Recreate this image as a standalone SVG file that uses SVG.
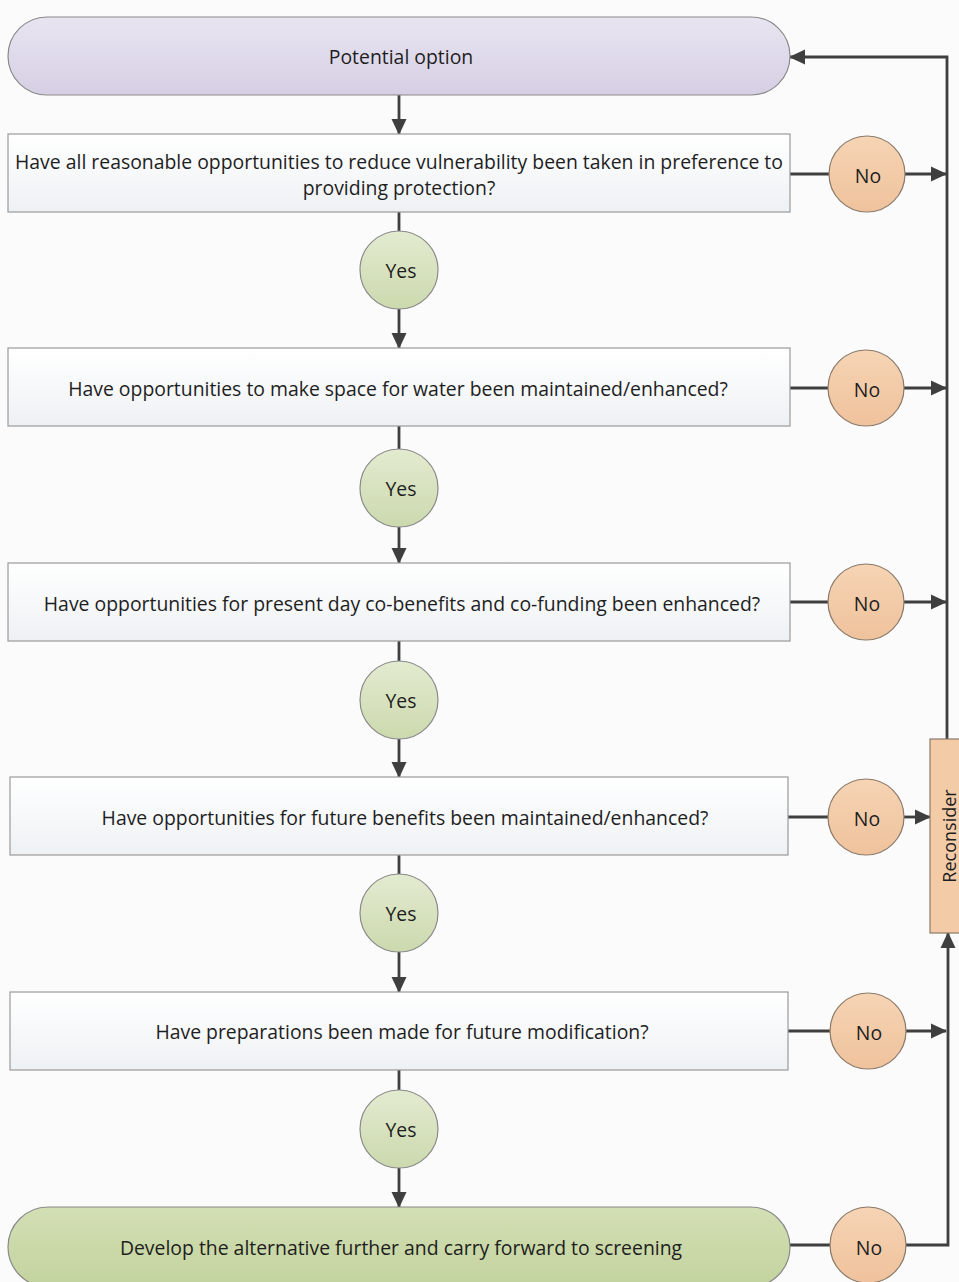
<svg xmlns="http://www.w3.org/2000/svg" width="959" height="1282" viewBox="0 0 959 1282">
<defs>
<linearGradient id="gBox" x1="0" y1="0" x2="0" y2="1"><stop offset="0" stop-color="#ffffff"/><stop offset="1" stop-color="#eef1f4"/></linearGradient>
<linearGradient id="gTop" x1="0" y1="0" x2="0" y2="1"><stop offset="0" stop-color="#e8e5f1"/><stop offset="1" stop-color="#d6cfe4"/></linearGradient>
<linearGradient id="gEnd" x1="0" y1="0" x2="0" y2="1"><stop offset="0" stop-color="#d3dfb4"/><stop offset="1" stop-color="#c3d39e"/></linearGradient>
<linearGradient id="gYes" x1="0" y1="0" x2="0" y2="1"><stop offset="0" stop-color="#e3ebd0"/><stop offset="1" stop-color="#ccd9ae"/></linearGradient>
<linearGradient id="gNo" x1="0" y1="0" x2="0" y2="1"><stop offset="0" stop-color="#f6d4b4"/><stop offset="1" stop-color="#efc29c"/></linearGradient>
<marker id="ah" markerWidth="16" markerHeight="16" refX="15" refY="8" orient="auto" markerUnits="userSpaceOnUse"><path d="M0,0.5 L16,8 L0,15.5 Z" fill="#3f3f3f"/></marker>
<style>
text{font-family:"Open Sans","Noto Sans","Liberation Sans",sans-serif;font-size:19.4px;fill:#1e1e1e;text-anchor:middle;dominant-baseline:central}
.box{fill:url(#gBox);stroke:#9a9a9a;stroke-width:1.2}
.yes{fill:url(#gYes);stroke:#8a8a8a;stroke-width:1.2}
.no{fill:url(#gNo);stroke:#8a7a6a;stroke-width:1.2}
.c{stroke:#3f3f3f;stroke-width:2.8;fill:none}
.a{marker-end:url(#ah)}
</style>
</defs>
<rect width="959" height="1282" fill="#fbfbfb"/>

<g id="connectors">
<line class="c a" x1="399" y1="95" x2="399" y2="134"/>
<line class="c" x1="399" y1="212" x2="399" y2="232"/>
<line class="c a" x1="399" y1="309" x2="399" y2="348"/>
<line class="c" x1="399" y1="426" x2="399" y2="449"/>
<line class="c a" x1="399" y1="527" x2="399" y2="563"/>
<line class="c" x1="399" y1="641" x2="399" y2="661"/>
<line class="c a" x1="399" y1="739" x2="399" y2="777"/>
<line class="c" x1="399" y1="855" x2="399" y2="875"/>
<line class="c a" x1="399" y1="952" x2="399" y2="992"/>
<line class="c" x1="399" y1="1070" x2="399" y2="1090"/>
<line class="c a" x1="399" y1="1168" x2="399" y2="1207"/>

<line class="c" x1="790" y1="174" x2="829" y2="174"/>
<line class="c a" x1="905" y1="174" x2="946" y2="174"/>
<line class="c" x1="790" y1="388" x2="828" y2="388"/>
<line class="c a" x1="904" y1="388" x2="946" y2="388"/>
<line class="c" x1="790" y1="602" x2="828" y2="602"/>
<line class="c a" x1="904" y1="602" x2="946" y2="602"/>
<line class="c" x1="788" y1="817" x2="828" y2="817"/>
<line class="c a" x1="904" y1="817" x2="930" y2="817"/>
<line class="c" x1="788" y1="1031" x2="830" y2="1031"/>
<line class="c a" x1="906" y1="1031" x2="946" y2="1031"/>
<line class="c" x1="790" y1="1245" x2="830" y2="1245"/>

<polyline class="c a" points="947,739 947,57 790,57"/>
<polyline class="c a" points="906,1245 948,1245 948,933"/>
</g>

<g id="n-potential"><rect x="8" y="17" width="782" height="78" rx="39" fill="url(#gTop)" stroke="#8a8a8a" stroke-width="1.2"/><text x="401" y="56">Potential option</text></g>

<g id="n-q1"><rect class="box" x="8" y="134" width="782" height="78"/><text x="399" y="161">Have all reasonable opportunities to reduce vulnerability been taken in preference to</text><text x="399" y="187">providing protection?</text></g>
<g id="n-yes1"><circle class="yes" cx="399" cy="270" r="39"/><text x="401" y="270">Yes</text></g>
<g id="n-no1"><circle class="no" cx="867" cy="174" r="38"/><text x="868" y="175">No</text></g>

<g id="n-q2"><rect class="box" x="8" y="348" width="782" height="78"/><text x="398" y="388">Have opportunities to make space for water been maintained/enhanced?</text></g>
<g id="n-yes2"><circle class="yes" cx="399" cy="488" r="39"/><text x="401" y="488">Yes</text></g>
<g id="n-no2"><circle class="no" cx="866" cy="388" r="38"/><text x="867" y="389">No</text></g>

<g id="n-q3"><rect class="box" x="8" y="563" width="782" height="78"/><text x="402" y="603">Have opportunities for present day co-benefits and co-funding been enhanced?</text></g>
<g id="n-yes3"><circle class="yes" cx="399" cy="700" r="39"/><text x="401" y="700">Yes</text></g>
<g id="n-no3"><circle class="no" cx="866" cy="602" r="38"/><text x="867" y="603">No</text></g>

<g id="n-q4"><rect class="box" x="10" y="777" width="778" height="78"/><text x="405" y="817">Have opportunities for future benefits been maintained/enhanced?</text></g>
<g id="n-yes4"><circle class="yes" cx="399" cy="913" r="39"/><text x="401" y="913">Yes</text></g>
<g id="n-no4"><circle class="no" cx="866" cy="817" r="38"/><text x="867" y="818">No</text></g>

<g id="n-q5"><rect class="box" x="10" y="992" width="778" height="78"/><text x="402" y="1031">Have preparations been made for future modification?</text></g>
<g id="n-yes5"><circle class="yes" cx="399" cy="1129" r="39"/><text x="401" y="1129">Yes</text></g>
<g id="n-no5"><circle class="no" cx="868" cy="1031" r="38"/><text x="869" y="1032">No</text></g>

<g id="n-develop"><rect x="8" y="1207" width="782" height="80" rx="40" fill="url(#gEnd)" stroke="#8a8a8a" stroke-width="1.2"/><text x="401" y="1247">Develop the alternative further and carry forward to screening</text></g>
<g id="n-no6"><circle class="no" cx="868" cy="1245" r="38"/><text x="869" y="1247">No</text></g>

<g id="n-reconsider"><rect x="930" y="739" width="40" height="194" fill="#f3cba6" stroke="#8a7a6a" stroke-width="1.2"/><text transform="translate(949,836) rotate(-90)" x="0" y="0" style="font-size:18px">Reconsider</text></g>
</svg>
